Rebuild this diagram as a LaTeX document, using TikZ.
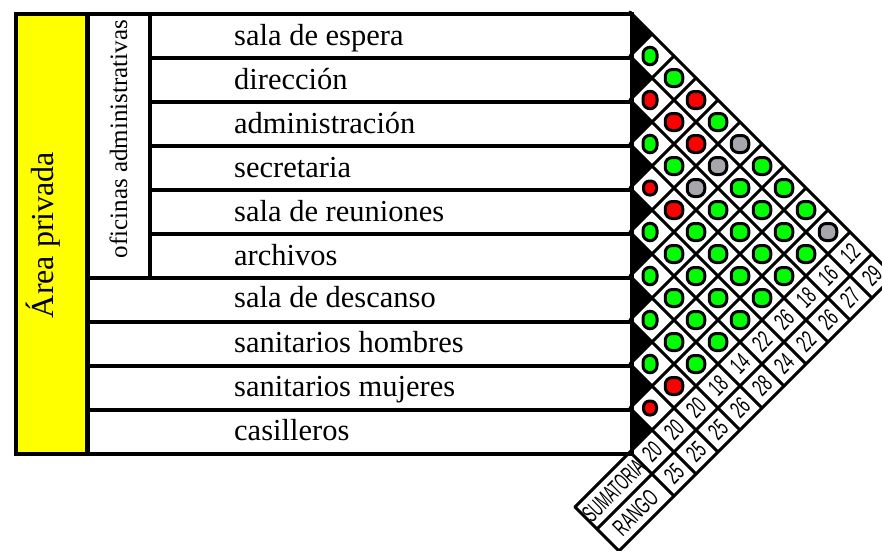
\documentclass[tikz,border=0pt]{standalone}
\usepackage{fontspec}
\setmainfont{Liberation Serif}
\newfontfamily\numfont{Liberation Sans}
\definecolor{cgreen}{RGB}{0,255,0}
\definecolor{cred}{RGB}{255,0,0}
\definecolor{cgray}{RGB}{166,166,172}
\definecolor{cyellow}{RGB}{255,255,0}
\newcommand\mxy[2]{({630+22*((#2)-(#1))},{12+22*((#1)+(#2)-1)})}
\newcommand\hsq[2]{\scalebox{#1}[1]{#2}}
\tikzset{
  rowbox/.style={draw, line width=3.5pt, inner sep=0, minimum height=44pt, anchor=north west},
  rowtext/.style={anchor=base west, inner sep=0, font=\fontsize{30.5}{36}\selectfont},
  cdot/.style={draw, line width=3pt, rounded corners=7pt, minimum width=17.5pt, minimum height=17pt, inner sep=0, fill=#1},
  mline/.style={line width=3pt, line cap=round},
  numtxt/.style={rotate=45, inner sep=0, font=\numfont\fontsize{24}{24}\selectfont},
}
\begin{document}
\begin{tikzpicture}[x=1pt,y=-1pt]
\useasboundingbox (0,0) rectangle (882,550);
\clip (0,0) rectangle (882,550);
% yellow column
\node[draw, line width=4pt, fill=cyellow, minimum width=71pt, minimum height=440pt, anchor=north west, inner sep=0] (area) at (14,12) {};
\node[anchor=base, rotate=90, inner sep=0, font=\fontsize{32}{38}\selectfont] (areat) at (53,235) {Área privada};
% oficinas column
\node[rowbox, minimum width=62pt, minimum height=264pt] (ofi) at (86,12) {};
\node[anchor=base, rotate=90, inner sep=0, font=\fontsize{25}{30}\selectfont] (ofit) at (127,139) {oficinas administrativas};
% rows
\node[rowbox, minimum width=482pt] (r1) at (148,12) {};
\node[rowbox, minimum width=482pt] (r2) at (148,56) {};
\node[rowbox, minimum width=482pt] (r3) at (148,100) {};
\node[rowbox, minimum width=482pt] (r4) at (148,144) {};
\node[rowbox, minimum width=482pt] (r5) at (148,188) {};
\node[rowbox, minimum width=482pt] (r6) at (148,232) {};
\node[rowbox, minimum width=544pt] (r7) at (86,276) {};
\node[rowbox, minimum width=544pt] (r8) at (86,320) {};
\node[rowbox, minimum width=544pt] (r9) at (86,364) {};
\node[rowbox, minimum width=544pt] (r10) at (86,408) {};
\node[rowtext] (t1) at (234,45) {sala de espera};
\node[rowtext] (t2) at (234,89) {dirección};
\node[rowtext] (t3) at (234,133) {administración};
\node[rowtext] (t4) at (234,177) {secretaria};
\node[rowtext] (t5) at (234,221) {sala de reuniones};
\node[rowtext] (t6) at (234,265) {archivos};
\node[rowtext] (t7) at (234,307) {sala de descanso};
\node[rowtext] (t8) at (234,352) {sanitarios hombres};
\node[rowtext] (t9) at (234,396) {sanitarios mujeres};
\node[rowtext] (t10) at (234,440) {casilleros};
% black half cells
\foreach \i in {1,...,10}
  \fill \mxy{\i-0.5}{\i-0.5} -- \mxy{\i-0.5}{\i+0.5} -- \mxy{\i+0.5}{\i+0.5} -- cycle;
% grid
\foreach \k in {0,...,10}
  \draw[mline] \mxy{\k+0.5}{\k+0.5} -- \mxy{\k+0.5}{12.5};
\foreach \k in {1,...,9}
  \draw[mline] \mxy{0.5}{\k+0.5} -- \mxy{\k+0.5}{\k+0.5};
\foreach \k in {10,11,12}
  \draw[mline] \mxy{0.5}{\k+0.5} -- \mxy{13}{\k+0.5};
\draw[mline] \mxy{13}{10.5} -- \mxy{13}{12.5};
% dots
\foreach \i/\j/\c in {1/3/cgreen, 2/4/cred, 3/5/cgreen, 4/6/cred, 5/7/cgreen, 6/8/cgreen, 7/9/cgreen, 8/10/cred,
  1/4/cred, 2/5/cred, 3/6/cgray, 4/7/cgreen, 5/8/cgreen, 6/9/cgreen, 7/10/cgreen,
  1/5/cgreen, 2/6/cgray, 3/7/cgreen, 4/8/cgreen, 5/9/cgreen, 6/10/cgreen,
  1/6/cgray, 2/7/cgreen, 3/8/cgreen, 4/9/cgreen, 5/10/cgreen,
  1/7/cgreen, 2/8/cgreen, 3/9/cgreen, 4/10/cgreen,
  1/8/cgreen, 2/9/cgreen, 3/10/cgreen,
  1/9/cgreen, 2/10/cgreen,
  1/10/cgray}
  \node[cdot=\c] (c\i-\j) at \mxy{\i}{\j} {};
\foreach \i/\j/\c in {1/2/cgreen, 2/3/cred, 3/4/cgreen, 5/6/cgreen, 6/7/cgreen, 7/8/cgreen, 8/9/cgreen}
  \node[cdot=\c, minimum width=14pt, minimum height=17.5pt, xshift=-2pt] (c\i-\j) at \mxy{\i}{\j} {};
\foreach \i/\j in {4/5, 9/10}
  \node[cdot=cred, minimum width=13pt, minimum height=14pt, rounded corners=6pt, xshift=-2pt] (c\i-\j) at \mxy{\i}{\j} {};
% sums and ranges
\foreach \i/\s/\r in {1/12/29, 2/16/27, 3/18/26, 4/26/22, 5/22/24, 6/14/28, 7/18/26, 8/20/25, 9/20/25, 10/20/25}{
  \node[numtxt] (s\i) at \mxy{\i}{11} {\hsq{0.62}{\s}};
  \node[numtxt] (g\i) at \mxy{\i}{12} {\hsq{0.62}{\r}};
}
\node[numtxt] (sum) at \mxy{11.75}{11} {\hsq{0.55}{SUMATORIA}};
\node[numtxt] (rng) at \mxy{11.75}{12} {\hsq{0.6}{RANGO}};
\end{tikzpicture}
\end{document}
